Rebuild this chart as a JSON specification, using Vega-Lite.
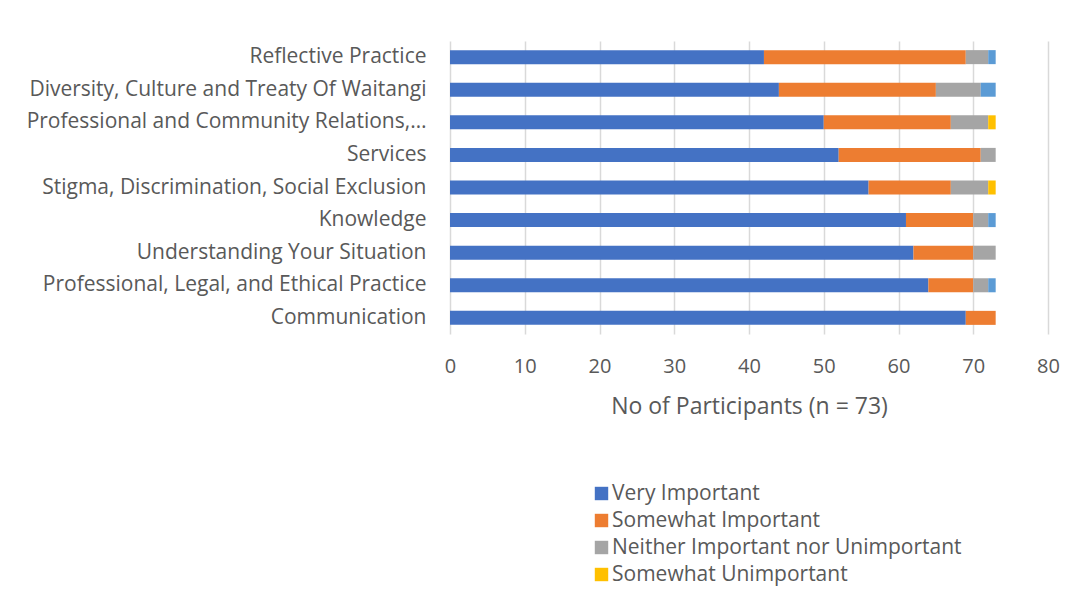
{
  "$schema": "https://vega.github.io/schema/vega-lite/v6.json",
  "autosize": "none",
  "width": 598,
  "height": 293,
  "padding": {"left": 450, "top": 41, "right": 29, "bottom": 258},
  "background": "white",
  "data": {
    "values": [
      {"topic": "Reflective Practice", "response": "Very Important", "rank": 1, "count": 42},
      {"topic": "Reflective Practice", "response": "Somewhat Important", "rank": 2, "count": 27},
      {"topic": "Reflective Practice", "response": "Neither Important nor Unimportant", "rank": 3, "count": 3},
      {"topic": "Reflective Practice", "response": "Very Unimportant", "rank": 5, "count": 1},
      {"topic": "Diversity, Culture and Treaty Of Waitangi", "response": "Very Important", "rank": 1, "count": 44},
      {"topic": "Diversity, Culture and Treaty Of Waitangi", "response": "Somewhat Important", "rank": 2, "count": 21},
      {"topic": "Diversity, Culture and Treaty Of Waitangi", "response": "Neither Important nor Unimportant", "rank": 3, "count": 6},
      {"topic": "Diversity, Culture and Treaty Of Waitangi", "response": "Very Unimportant", "rank": 5, "count": 2},
      {"topic": "Professional and Community Relations,…", "response": "Very Important", "rank": 1, "count": 50},
      {"topic": "Professional and Community Relations,…", "response": "Somewhat Important", "rank": 2, "count": 17},
      {"topic": "Professional and Community Relations,…", "response": "Neither Important nor Unimportant", "rank": 3, "count": 5},
      {"topic": "Professional and Community Relations,…", "response": "Somewhat Unimportant", "rank": 4, "count": 1},
      {"topic": "Services", "response": "Very Important", "rank": 1, "count": 52},
      {"topic": "Services", "response": "Somewhat Important", "rank": 2, "count": 19},
      {"topic": "Services", "response": "Neither Important nor Unimportant", "rank": 3, "count": 2},
      {"topic": "Stigma, Discrimination, Social Exclusion", "response": "Very Important", "rank": 1, "count": 56},
      {"topic": "Stigma, Discrimination, Social Exclusion", "response": "Somewhat Important", "rank": 2, "count": 11},
      {"topic": "Stigma, Discrimination, Social Exclusion", "response": "Neither Important nor Unimportant", "rank": 3, "count": 5},
      {"topic": "Stigma, Discrimination, Social Exclusion", "response": "Somewhat Unimportant", "rank": 4, "count": 1},
      {"topic": "Knowledge", "response": "Very Important", "rank": 1, "count": 61},
      {"topic": "Knowledge", "response": "Somewhat Important", "rank": 2, "count": 9},
      {"topic": "Knowledge", "response": "Neither Important nor Unimportant", "rank": 3, "count": 2},
      {"topic": "Knowledge", "response": "Very Unimportant", "rank": 5, "count": 1},
      {"topic": "Understanding Your Situation", "response": "Very Important", "rank": 1, "count": 62},
      {"topic": "Understanding Your Situation", "response": "Somewhat Important", "rank": 2, "count": 8},
      {"topic": "Understanding Your Situation", "response": "Neither Important nor Unimportant", "rank": 3, "count": 3},
      {"topic": "Professional, Legal, and Ethical Practice", "response": "Very Important", "rank": 1, "count": 64},
      {"topic": "Professional, Legal, and Ethical Practice", "response": "Somewhat Important", "rank": 2, "count": 6},
      {"topic": "Professional, Legal, and Ethical Practice", "response": "Neither Important nor Unimportant", "rank": 3, "count": 2},
      {"topic": "Professional, Legal, and Ethical Practice", "response": "Very Unimportant", "rank": 5, "count": 1},
      {"topic": "Communication", "response": "Very Important", "rank": 1, "count": 69},
      {"topic": "Communication", "response": "Somewhat Important", "rank": 2, "count": 4}
    ]
  },
  "mark": {"type": "bar"},
  "encoding": {
    "y": {
      "field": "topic",
      "type": "nominal",
      "sort": ["Reflective Practice", "Diversity, Culture and Treaty Of Waitangi", "Professional and Community Relations,…", "Services", "Stigma, Discrimination, Social Exclusion", "Knowledge", "Understanding Your Situation", "Professional, Legal, and Ethical Practice", "Communication"],
      "scale": {"paddingInner": 0.57, "paddingOuter": 0.28},
      "axis": {
        "title": null,
        "ticks": false,
        "domain": false,
        "labelPadding": 24,
        "labelFontSize": 21,
        "labelFont": "Open Sans",
        "labelColor": "#595959",
        "labelLimit": 450
      }
    },
    "x": {
      "field": "count",
      "type": "quantitative",
      "stack": "zero",
      "scale": {"domain": [0, 80]},
      "axis": {
        "values": [0, 10, 20, 30, 40, 50, 60, 70, 80],
        "title": "No of Participants (n = 73)",
        "titleFont": "Open Sans",
        "titleFontSize": 23,
        "titleFontWeight": "normal",
        "titleColor": "#595959",
        "titlePadding": 19,
        "ticks": false,
        "domain": false,
        "grid": true,
        "gridColor": "#d9d9d9",
        "gridWidth": 1.5,
        "labelFlush": false,
        "labelPadding": 22,
        "labelFontSize": 20,
        "labelFont": "Open Sans",
        "labelColor": "#595959"
      }
    },
    "color": {
      "field": "response",
      "type": "nominal",
      "scale": {
        "domain": ["Very Important", "Somewhat Important", "Neither Important nor Unimportant", "Somewhat Unimportant", "Very Unimportant"],
        "range": ["#4472C4", "#ED7D31", "#A5A5A5", "#FFC000", "#5B9BD5"]
      },
      "legend": {
        "title": null,
        "orient": "none",
        "legendX": 141,
        "legendY": 442,
        "values": ["Very Important", "Somewhat Important", "Neither Important nor Unimportant", "Somewhat Unimportant"],
        "symbolType": "square",
        "symbolSize": 180,
        "symbolStrokeWidth": 0,
        "labelFont": "Open Sans",
        "labelFontSize": 21,
        "labelColor": "#595959",
        "labelOffset": 0,
        "rowPadding": 5,
        "labelLimit": 450
      }
    },
    "order": {"field": "rank", "type": "quantitative"}
  },
  "config": {
    "view": {"stroke": null}
  }
}
